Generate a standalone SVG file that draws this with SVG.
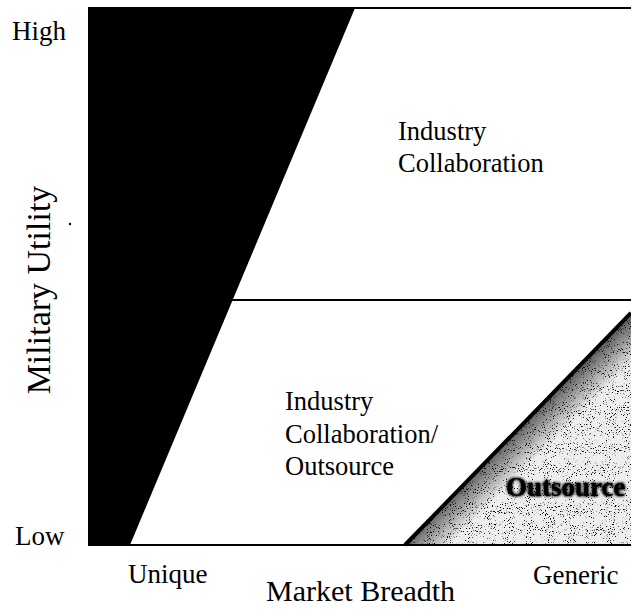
<svg xmlns="http://www.w3.org/2000/svg" width="631" height="609" viewBox="0 0 631 609">
<style>
.t{font-family:"Liberation Serif","Times New Roman",serif;fill:#000}
.lab{font-size:27px}
.in{font-size:26.5px}
.ln{stroke:#000;stroke-width:2;fill:none}
</style>
<defs>
<filter id="speckle" x="0" y="0" width="100%" height="100%">
<feTurbulence type="fractalNoise" baseFrequency="0.95" numOctaves="2" seed="7" result="n"/>
<feColorMatrix in="n" type="matrix" values="0 0 0 0 0  0 0 0 0 0  0 0 0 0 0  -9 0 0 0 3.4" result="a"/>
<feComposite in="a" in2="SourceGraphic" operator="in"/>
</filter>
<linearGradient id="edge" gradientUnits="userSpaceOnUse" x1="518" y1="429" x2="542" y2="453">
<stop offset="0" stop-color="#000" stop-opacity="0.6"/>
<stop offset="1" stop-color="#000" stop-opacity="0"/>
</linearGradient>
<filter id="halo" x="-10%" y="-30%" width="120%" height="160%">
<feGaussianBlur in="SourceAlpha" stdDeviation="1.6" result="b"/>
<feMerge><feMergeNode in="b"/><feMergeNode in="b"/><feMergeNode in="SourceGraphic"/></feMerge>
</filter>
</defs>
<rect width="631" height="609" fill="#fff"/>
<g id="unique-region">
<polygon points="88,8 355,8 130,545 88,545" fill="#000"/>
</g>
<g id="outsource-region">
<polygon points="405,545 631,313 631,545" fill="#eeeeee"/>
<polygon points="405,545 631,313 631,545" fill="url(#edge)"/>
<polygon points="405,545 631,313 631,545" fill="#fff" filter="url(#speckle)"/>
<text class="t" x="506" y="496" font-size="27" font-weight="bold" filter="url(#halo)">Outsource</text>
</g>
<g id="connectors">
<line class="ln" x1="88" y1="8" x2="631" y2="8"/>
<line class="ln" x1="88" y1="545" x2="631" y2="545"/>
<line class="ln" x1="232" y1="300" x2="631" y2="300"/>
<line x1="405" y1="545" x2="631" y2="313" stroke="#000" stroke-width="4"/>
</g>
<g id="industry-collaboration">
<text class="t in" x="398" y="140">Industry</text>
<text class="t in" x="398" y="172">Collaboration</text>
</g>
<g id="industry-collaboration-outsource">
<text class="t in" x="285" y="410">Industry</text>
<text class="t in" x="285" y="443">Collaboration/</text>
<text class="t in" x="285" y="475">Outsource</text>
</g>
<g id="axes">
<text class="t lab" x="12" y="40">High</text>
<text class="t lab" x="15" y="545">Low</text>
<text class="t lab" x="128" y="583">Unique</text>
<text class="t lab" x="533" y="584">Generic</text>
<text class="t" x="266" y="601" font-size="30">Market Breadth</text>
<text class="t" x="0" y="0" font-size="34" text-anchor="middle" transform="translate(50,290) rotate(-90)">Military Utility</text>
<circle cx="70" cy="224" r="1.2" fill="#000"/>
</g>
</svg>
